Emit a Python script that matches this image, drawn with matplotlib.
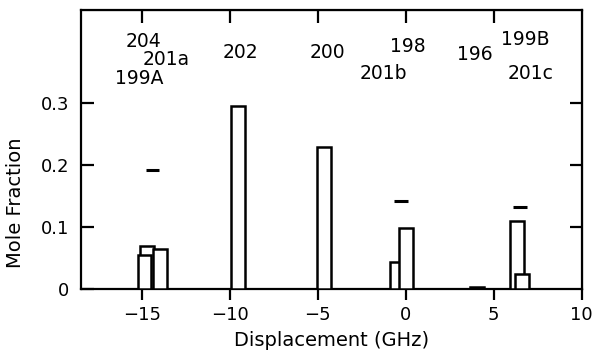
import matplotlib.pyplot as plt

# isotope peaks: displacement (GHz), mole fraction
names = ['204', '199A', '201a', '202', '200', '201b', '198', '196', '199B', '201c']
centers = [-14.72, -14.87, -14.0, -9.56, -4.64, -0.52, 0.02, 4.06, 6.32, 6.62]
fractions = [0.070, 0.055, 0.065, 0.296, 0.229, 0.0435, 0.098, 0.004, 0.110, 0.024]

# short dashes above some groups
dash_x = [-14.4, -0.28, 6.5]
dash_y = [0.192, 0.143, 0.133]

# where the isotope names are written
label_x = [-14.95, -15.15, -13.63, -9.43, -4.48, -1.28, 0.13, 3.95, 6.81, 7.1]
label_y = [0.399, 0.340, 0.370, 0.382, 0.382, 0.348, 0.391, 0.378, 0.402, 0.348]

fig = plt.figure(figsize=(6.02, 3.52), dpi=100)
ax = fig.add_axes([0.134, 0.178, 0.832, 0.794])

for i in range(len(names)):
    ax.bar(centers[i], fractions[i], width=0.78, facecolor='white',
           edgecolor='black', linewidth=1.8, zorder=2 + i)
    ax.text(label_x[i], label_y[i], names[i], ha='center', va='center',
            fontsize=13.5)

ax.hlines(dash_y, [x - 0.38 for x in dash_x], [x + 0.38 for x in dash_x],
          color='black', linewidth=2.2)

ax.set_xlim(-18.5, 10)
ax.set_ylim(0, 0.45)
ax.set_xticks([-15, -10, -5, 0, 5, 10])
ax.set_xticklabels(['\u221215', '\u221210', '\u22125', '0', '5', '10'])
ax.set_yticks([0, 0.1, 0.2, 0.3])
ax.set_yticklabels(['0', '0.1', '0.2', '0.3'])

for s in ax.spines.values():
    s.set_linewidth(1.6)

ax.tick_params(axis='x', direction='out', length=8, width=1.6, pad=4,
               labelsize=13)
ax.tick_params(axis='y', direction='in', length=9, width=1.6, pad=8,
               labelsize=13)

# inward ticks on top and right, no labels
top = ax.secondary_xaxis('top')
top.set_xticks([-15, -10, -5, 0, 5])
top.tick_params(direction='in', length=9, width=1.6, labeltop=False)
right = ax.secondary_yaxis('right')
right.set_yticks([0.1, 0.2, 0.3])
right.tick_params(direction='in', length=9, width=1.6, labelright=False)

ax.set_xlabel('Displacement (GHz)', fontsize=14, labelpad=5)
ax.set_ylabel('Mole Fraction', fontsize=14)
ax.yaxis.set_label_coords(-0.111, 0.31)

plt.savefig('out.png', dpi=100)
